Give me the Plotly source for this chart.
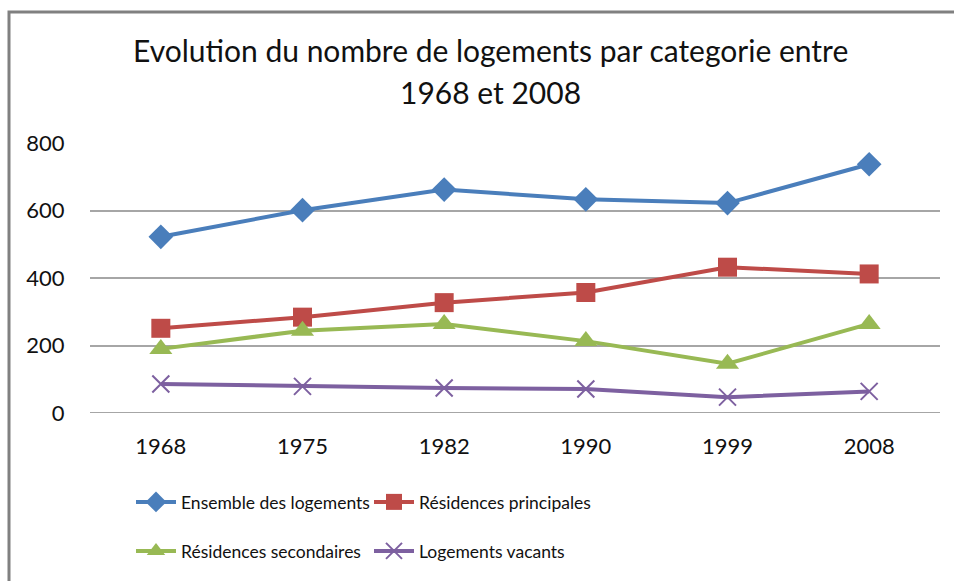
import plotly.graph_objects as go

years = ["1968", "1975", "1982", "1990", "1999", "2008"]
ensemble = [522, 601, 662, 633, 622, 737]
principales = [251, 284, 327, 357, 432, 412]
secondaires = [190, 244, 264, 213, 146, 264]
vacants = [86, 79, 74, 71, 47, 64]
y_ticks = [0, 200, 400, 600, 800]
title_lines = ["Evolution du nombre de logements par categorie entre", "1968 et 2008"]

W, H = 954, 581
L, R, T, B = 90, 14, 143, 168
pw, ph = W - L - R, H - T - B

def px_x(px):
    return (px - L) / pw

def px_y(py):
    return (H - B - py) / ph

FONT = "Lato"

series = [
    ("Ensemble des logements", ensemble, "#4A7EBB", dict(symbol="diamond", size=19), "legend"),
    ("Résidences principales", principales, "#BE4B48", dict(symbol="square", size=19), "legend"),
    ("Résidences secondaires", secondaires, "#98B954", dict(symbol="triangle-up", size=20), "legend2"),
    ("Logements vacants", vacants, "#7D60A0", dict(symbol="x-thin", size=17, line=dict(width=2, color="#7D60A0")), "legend2"),
]

fig = go.Figure()
for name, vals, color, mk, lg in series:
    fig.add_trace(go.Scatter(
        x=years, y=vals, name=name, mode="lines+markers",
        line=dict(color=color, width=4),
        marker=dict(color=color, **mk),
        legend=lg,
    ))

legend_common = dict(
    orientation="h", xanchor="left", yanchor="middle",
    font=dict(family=FONT, size=17.5, color="#111111"),
    bgcolor="rgba(0,0,0,0)", entrywidth=183, itemwidth=40,
    tracegroupgap=0,
)

fig.update_layout(
    width=W, height=H,
    margin=dict(l=L, r=R, t=T, b=B),
    paper_bgcolor="white", plot_bgcolor="white",
    font=dict(family=FONT, color="#111111"),
    showlegend=True,
    legend=dict(x=px_x(131), y=px_y(502), **legend_common),
    legend2=dict(x=px_x(131), y=px_y(551), **legend_common),
    xaxis=dict(
        type="category", range=[-0.5, 5.5], showgrid=False, zeroline=False, showline=False,
        ticks="outside", ticklen=14, tickcolor="rgba(0,0,0,0)",
        tickfont=dict(family=FONT, size=22, color="#111111"),
    ),
    yaxis=dict(
        range=[0, 800], tickvals=y_ticks, showgrid=True,
        gridcolor="#A6A6A6", gridwidth=2, zeroline=False, showline=False,
        ticks="outside", ticklen=20, tickcolor="rgba(0,0,0,0)",
        tickfont=dict(family=FONT, size=22, color="#111111"),
    ),
    shapes=[
        dict(type="rect", xref="paper", yref="paper",
             x0=px_x(9), x1=px_x(970), y0=px_y(600), y1=px_y(12),
             line=dict(color="#808080", width=3), fillcolor="rgba(0,0,0,0)", layer="below"),
        dict(type="line", xref="paper", yref="y",
             x0=0, x1=1, y0=0, y1=0, line=dict(color="#A6A6A6", width=2), layer="below"),
    ],
    annotations=[
        dict(text=title_lines[0], xref="paper", yref="paper", x=px_x(490), y=px_y(50),
             xanchor="center", yanchor="middle", showarrow=False,
             font=dict(family=FONT, size=30, color="#111111")),
        dict(text=title_lines[1], xref="paper", yref="paper", x=px_x(490), y=px_y(92),
             xanchor="center", yanchor="middle", showarrow=False,
             font=dict(family=FONT, size=30, color="#111111")),
    ],
)

fig.write_html("out.html", config={"displayModeBar": False},
               post_script="document.body.style.margin='0';")
